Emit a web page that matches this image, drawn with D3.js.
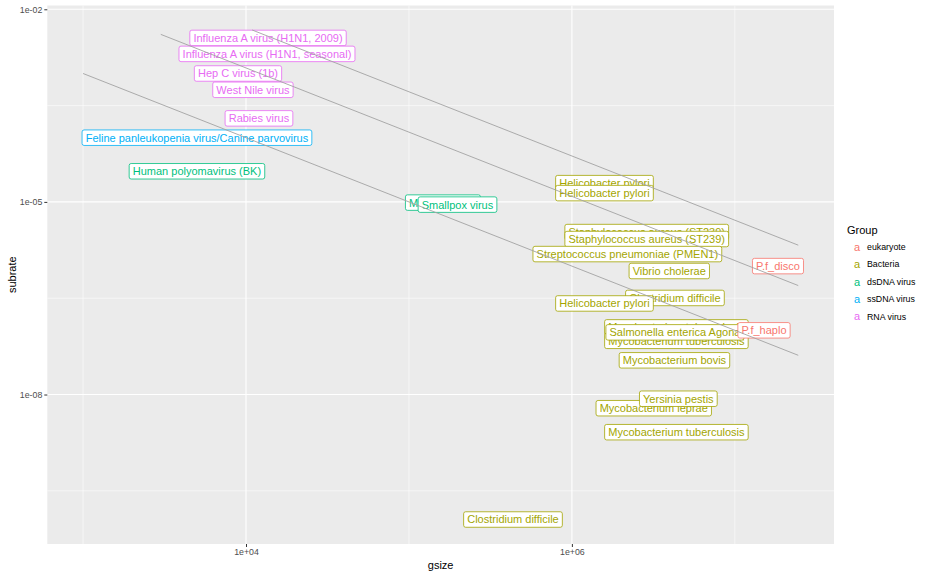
<!DOCTYPE html>
<html>
<head>
<meta charset="utf-8">
<script src="https://cdn.jsdelivr.net/npm/d3@7"></script>
<style>
  html, body { margin: 0; padding: 0; background: #fff; }
  svg { display: block; font-family: "Liberation Sans", Arial, Helvetica, sans-serif; }
</style>
</head>
<body>
<svg id="chart" width="936" height="576"></svg>
<script>
// ---- data (drawing order matters: later labels sit on top) ----
const names = [
  "Influenza A virus (H1N1, 2009)", "Influenza A virus (H1N1, seasonal)", "Hep C virus (1b)",
  "West Nile virus", "Rabies virus", "Feline panleukopenia virus/Canine parvovirus",
  "Human polyomavirus (BK)", "Myxoma virus", "Smallpox virus",
  "Helicobacter pylori", "Helicobacter pylori", "Staphylococcus aureus (ST239)",
  "Staphylococcus aureus (ST239)", "Streptococcus pneumoniae (PMEN1)", "Vibrio cholerae",
  "P.f_disco", "Clostridium difficile", "Helicobacter pylori",
  "Mycobacterium tuberculosis", "Mycobacterium tuberculosis", "Salmonella enterica Agona",
  "P.f_haplo", "Mycobacterium bovis", "Mycobacterium leprae",
  "Yersinia pestis", "Mycobacterium tuberculosis", "Clostridium difficile"
];
const groups = [
  "RNA virus", "RNA virus", "RNA virus",
  "RNA virus", "RNA virus", "ssDNA virus",
  "dsDNA virus", "dsDNA virus", "dsDNA virus",
  "Bacteria", "Bacteria", "Bacteria",
  "Bacteria", "Bacteria", "Bacteria",
  "eukaryote", "Bacteria", "Bacteria",
  "Bacteria", "Bacteria", "Bacteria",
  "eukaryote", "Bacteria", "Bacteria",
  "Bacteria", "Bacteria", "Bacteria"
];
const gsize = [
  13650, 13450, 8930,
  11030, 12010, 5000,
  5000, 161700, 198600,
  1585000, 1585000, 2880000,
  2880000, 2190000, 3960000,
  18400000, 4290000, 1585000,
  4380000, 4380000, 4290000,
  15100000, 4260000, 3180000,
  4500000, 4380000, 435000
];
const subrate = [
  3.58e-3, 2.02e-3, 1.0e-3,
  5.57e-4, 2.0e-4, 1.0e-4,
  3.0e-5, 9.75e-6, 9.07e-6,
  1.96e-5, 1.37e-5, 3.39e-6,
  2.64e-6, 1.54e-6, 8.39e-7,
  1.0e-6, 3.19e-7, 2.62e-7,
  1.11e-7, 6.86e-8, 9.29e-8,
  1.0e-7, 3.41e-8, 6.12e-9,
  8.6e-9, 2.59e-9, 1.13e-10
];
// reference lines: subrate = k / gsize
const lineK = [1, 12.2, 51.9];
const lineStart = [1000, 3000, 10900];
const lineEnd = [24500000, 24500000, 24500000];

const groupLevels = ["eukaryote", "Bacteria", "dsDNA virus", "ssDNA virus", "RNA virus"];
const groupColors = ["#F8766D", "#A3A500", "#00BF7D", "#00B0F6", "#E76BF3"];

const xBreaks = [1e4, 1e6];
const xBreakLabels = ["1e+04", "1e+06"];
const xMinor = [1e3, 1e5, 1e7];
const yBreaks = [1e-2, 1e-5, 1e-8];
const yBreakLabels = ["1e-02", "1e-05", "1e-08"];
const yMinor = [Math.pow(10, -3.5), Math.pow(10, -6.5), Math.pow(10, -9.5)];

// ---- layout ----
const svg = d3.select("#chart");
const panel = { left: 47.3, right: 834, top: 5.5, bottom: 544 };

// domains with ggplot-style 5% expansion in log space
const allX = gsize.concat(lineStart, lineEnd);
const allY = subrate.concat(lineK.map((k, i) => k / lineStart[i]), lineK.map((k, i) => k / lineEnd[i]));
function expandLog(vals) {
  const lo = Math.log10(d3.min(vals)), hi = Math.log10(d3.max(vals));
  const pad = (hi - lo) * 0.05;
  return [Math.pow(10, lo - pad), Math.pow(10, hi + pad)];
}
const x = d3.scaleLog().domain(expandLog(allX)).range([panel.left, panel.right]);
const y = d3.scaleLog().domain(expandLog(allY)).range([panel.bottom, panel.top]);
const color = d3.scaleOrdinal().domain(groupLevels).range(groupColors);

// panel background
svg.append("rect")
  .attr("x", panel.left).attr("y", panel.top)
  .attr("width", panel.right - panel.left).attr("height", panel.bottom - panel.top)
  .attr("fill", "#EBEBEB");

// gridlines
const grid = svg.append("g");
grid.selectAll(".xminor").data(xMinor).join("line")
  .attr("x1", d => x(d)).attr("x2", d => x(d))
  .attr("y1", panel.top).attr("y2", panel.bottom)
  .attr("stroke", "#fff").attr("stroke-width", 0.55);
grid.selectAll(".yminor").data(yMinor).join("line")
  .attr("y1", d => y(d)).attr("y2", d => y(d))
  .attr("x1", panel.left).attr("x2", panel.right)
  .attr("stroke", "#fff").attr("stroke-width", 0.55);
grid.selectAll(".xmajor").data(xBreaks).join("line")
  .attr("x1", d => x(d)).attr("x2", d => x(d))
  .attr("y1", panel.top).attr("y2", panel.bottom)
  .attr("stroke", "#fff").attr("stroke-width", 1.1);
grid.selectAll(".ymajor").data(yBreaks).join("line")
  .attr("y1", d => y(d)).attr("y2", d => y(d))
  .attr("x1", panel.left).attr("x2", panel.right)
  .attr("stroke", "#fff").attr("stroke-width", 1.1);

// axes
const xAxis = d3.axisBottom(x).tickValues(xBreaks)
  .tickFormat((d, i) => xBreakLabels[i]).tickSize(3).tickPadding(2);
const gx = svg.append("g").attr("transform", `translate(0,${panel.bottom})`).call(xAxis);
const yAxis = d3.axisLeft(y).tickValues(yBreaks)
  .tickFormat((d, i) => yBreakLabels[i]).tickSize(3).tickPadding(2);
const gy = svg.append("g").attr("transform", `translate(${panel.left},0)`).call(yAxis);
[gx, gy].forEach(g => {
  g.select(".domain").remove();
  g.selectAll(".tick line").attr("stroke", "#333333").attr("stroke-width", 1);
  g.selectAll(".tick text").attr("fill", "#4D4D4D").attr("font-size", "8.8px")
    .attr("font-family", "'Liberation Sans', Arial, sans-serif");
});

// axis titles
svg.append("text").attr("x", (panel.left + panel.right) / 2).attr("y", 569)
  .attr("text-anchor", "middle").attr("font-size", "11px").attr("fill", "#000").text("gsize");
svg.append("text")
  .attr("transform", `translate(16,${(panel.top + panel.bottom) / 2}) rotate(-90)`)
  .attr("text-anchor", "middle").attr("font-size", "11px").attr("fill", "#000").text("subrate");

// labels
const clipId = "panelclip";
svg.append("clipPath").attr("id", clipId).append("rect")
  .attr("x", panel.left).attr("y", panel.top)
  .attr("width", panel.right - panel.left).attr("height", panel.bottom - panel.top);

const labelLayer = svg.append("g").attr("clip-path", `url(#${clipId})`);
const idx = d3.range(names.length);
idx.forEach(i => {
  const g = labelLayer.append("g");
  const cx = x(gsize[i]), cy = y(subrate[i]);
  const col = color(groups[i]);
  const rect = g.append("rect");
  const t = g.append("text")
    .attr("x", cx).attr("y", cy).attr("dy", "0.36em")
    .attr("text-anchor", "middle").attr("font-size", "11px")
    .attr("fill", col).text(names[i]);
  const w = t.node().getComputedTextLength();
  const padX = 3.6, h = 15.5;
  rect.attr("x", cx - w / 2 - padX).attr("y", cy - h / 2)
    .attr("width", w + 2 * padX).attr("height", h)
    .attr("rx", 2).attr("ry", 2)
    .attr("fill", "#fff").attr("stroke", col).attr("stroke-width", 0.8);
});

// reference lines (drawn on top of labels)
const lineLayer = svg.append("g").attr("clip-path", `url(#${clipId})`);
lineK.forEach((k, i) => {
  const pts = [[lineStart[i], k / lineStart[i]], [lineEnd[i], k / lineEnd[i]]];
  lineLayer.append("path")
    .attr("d", d3.line().x(d => x(d[0])).y(d => y(d[1]))(pts))
    .attr("fill", "none").attr("stroke", "#A3A3A3").attr("stroke-width", 0.9);
});

// legend
const legend = svg.append("g");
legend.append("text").attr("x", 847).attr("y", 234)
  .attr("font-size", "11px").attr("fill", "#000").text("Group");
groupLevels.forEach((gname, i) => {
  const ly = 247 + i * 17.4;
  legend.append("text").attr("x", 857).attr("y", ly).attr("dy", "0.35em")
    .attr("text-anchor", "middle").attr("font-size", "11px")
    .attr("fill", groupColors[i]).text("a");
  legend.append("text").attr("x", 867).attr("y", ly).attr("dy", "0.35em")
    .attr("font-size", "8.8px").attr("fill", "#000").text(gname);
});
</script>
</body>
</html>
